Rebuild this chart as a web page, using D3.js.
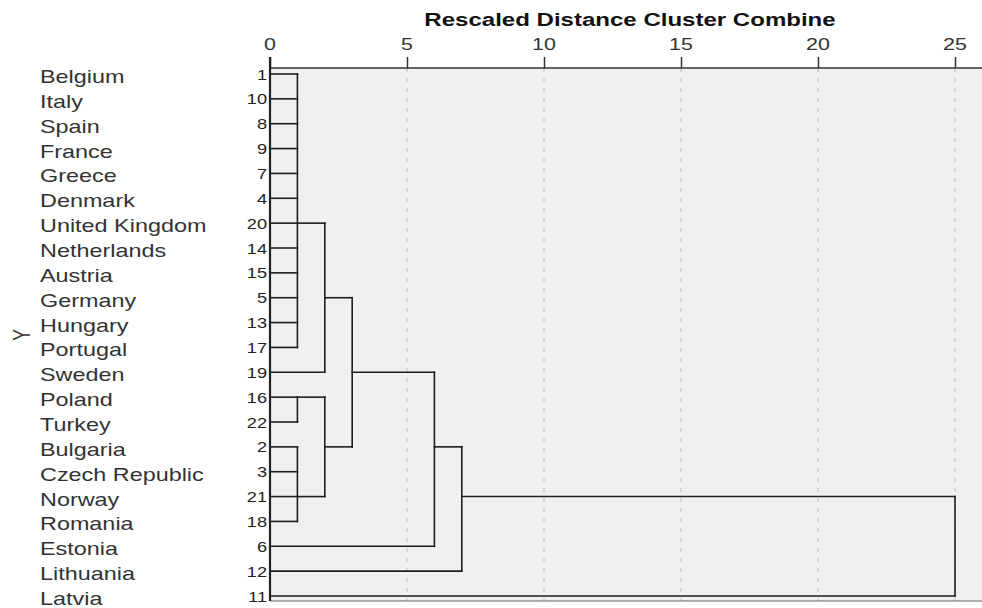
<!DOCTYPE html>
<html>
<head>
<meta charset="utf-8">
<script src="https://cdn.jsdelivr.net/npm/d3@7"></script>
<style>
  html, body { margin: 0; padding: 0; background: #ffffff; }
  svg { display: block; }
  text { font-family: "Liberation Sans", Arial, sans-serif; }
</style>
</head>
<body>
<svg id="chart" width="982" height="608"></svg>
<script>
// ---- data ----
const countries = ["Belgium","Italy","Spain","France","Greece","Denmark","United Kingdom","Netherlands","Austria","Germany","Hungary","Portugal","Sweden","Poland","Turkey","Bulgaria","Czech Republic","Norway","Romania","Estonia","Lithuania","Latvia"];
const caseNumbers = [1,10,8,9,7,4,20,14,15,5,13,17,19,16,22,2,3,21,18,6,12,11];
const xTicks = [0,5,10,15,20,25];
const axisTitle = "Rescaled Distance Cluster Combine";
const yTitle = "Y";
// clusters: children refer to leaves ("L<i>") or earlier clusters ("C<j>")
const clusterChildren = [
  ["L0","L1","L2","L3","L4","L5","L6","L7","L8","L9","L10","L11"], // C0
  ["C0","L12"],            // C1
  ["L13","L14"],           // C2
  ["L15","L16","L17","L18"], // C3
  ["C2","C3"],             // C4
  ["C1","C4"],             // C5
  ["C5","L19"],            // C6
  ["C6","L20"],            // C7
  ["C7","L21"]             // C8
];
const clusterDistances = [1, 2, 1, 1, 2, 3, 6, 7, 25];
const clusterJoinRows  = [6, 9, 13, 17, 15, 12, 15, 17, 19];

// ---- layout ----
const svg = d3.select("#chart");
const plotLeft = 270, plotTop = 68, plotBottom = 601, plotRight = 982;
const SX = 1.3; // horizontal stretch of the original rendering

const x = d3.scaleLinear().domain([0, 25]).range([270, 955]);
const y = d3.scaleLinear().domain([0, countries.length - 1]).range([74, 596]);

// background
svg.append("rect")
  .attr("x", plotLeft).attr("y", plotTop)
  .attr("width", plotRight - plotLeft).attr("height", plotBottom - plotTop)
  .attr("fill", "#f0f0f0");

// gridlines
svg.append("g").selectAll("line")
  .data(xTicks.filter(t => t > 0))
  .join("line")
  .attr("x1", d => x(d)).attr("x2", d => x(d))
  .attr("y1", plotTop).attr("y2", plotBottom)
  .attr("stroke", "#cdcdcd").attr("stroke-width", 1.5)
  .attr("stroke-dasharray", "4,6");

// top axis
const axisG = svg.append("g").attr("transform", `translate(0,${plotTop})`);
const axis = d3.axisTop(x).tickValues(xTicks).tickSize(11).tickPadding(0).tickFormat(d3.format("d"));
axisG.call(axis);
axisG.select(".domain").remove();
axisG.selectAll(".tick line").attr("stroke", "#333").attr("stroke-width", 1.5);
axisG.selectAll(".tick text").remove();
svg.append("g").selectAll("text")
  .data(xTicks)
  .join("text")
  .attr("transform", d => `translate(${x(d)},50) scale(${SX},1)`)
  .attr("text-anchor", "middle")
  .attr("font-size", 16.5)
  .attr("fill", "#333")
  .text(d => d);

// axis title
svg.append("text")
  .attr("transform", `translate(630,26) scale(${SX},1)`)
  .attr("text-anchor", "middle")
  .attr("font-size", 18.5)
  .attr("font-weight", "bold")
  .attr("fill", "#111")
  .text(axisTitle);

// plot frame lines
svg.append("line").attr("x1", plotLeft).attr("x2", plotRight).attr("y1", plotTop).attr("y2", plotTop)
  .attr("stroke", "#333").attr("stroke-width", 1.5);
svg.append("line").attr("x1", plotLeft).attr("x2", plotRight).attr("y1", plotBottom).attr("y2", plotBottom)
  .attr("stroke", "#666").attr("stroke-width", 1.2);

// ---- dendrogram ----
function nodeInfo(id) {
  if (id[0] === "L") { const i = +id.slice(1); return { row: i, dist: 0 }; }
  const j = +id.slice(1);
  return { row: clusterJoinRows[j], dist: clusterDistances[j] };
}
const segs = [];
clusterChildren.forEach((children, j) => {
  const d = clusterDistances[j];
  const rows = children.map(c => nodeInfo(c).row);
  segs.push({ x1: d, x2: d, r1: d3.min(rows), r2: d3.max(rows) });
  children.forEach(c => {
    const info = nodeInfo(c);
    segs.push({ x1: info.dist, x2: d, r1: info.row, r2: info.row });
  });
});
svg.append("g").selectAll("line")
  .data(segs)
  .join("line")
  .attr("x1", s => x(s.x1)).attr("x2", s => x(s.x2))
  .attr("y1", s => y(s.r1)).attr("y2", s => y(s.r2))
  .attr("stroke", "#1e1e1e").attr("stroke-width", 1.6)
  .attr("stroke-linecap", "square");

// left frame line
svg.append("line").attr("x1", plotLeft).attr("x2", plotLeft).attr("y1", 57).attr("y2", plotBottom)
  .attr("stroke", "#222").attr("stroke-width", 2.2);

// case numbers
svg.append("g").selectAll("text")
  .data(caseNumbers)
  .join("text")
  .attr("transform", (d, i) => `translate(267,${y(i) + 5.5}) scale(${SX},1)`)
  .attr("text-anchor", "end")
  .attr("font-size", 14)
  .attr("fill", "#222")
  .text(d => d);

// country labels
svg.append("g").selectAll("text")
  .data(countries)
  .join("text")
  .attr("transform", (d, i) => `translate(40,${y(i) + 9}) scale(${SX},1)`)
  .attr("font-size", 18)
  .attr("fill", "#333")
  .text(d => d);

// Y title
svg.append("text")
  .attr("transform", `translate(30,${(y(0) + y(countries.length - 1)) / 2}) scale(${SX},1) rotate(-90)`)
  .attr("text-anchor", "middle")
  .attr("font-size", 18)
  .attr("fill", "#333")
  .text(yTitle);
</script>
</body>
</html>
